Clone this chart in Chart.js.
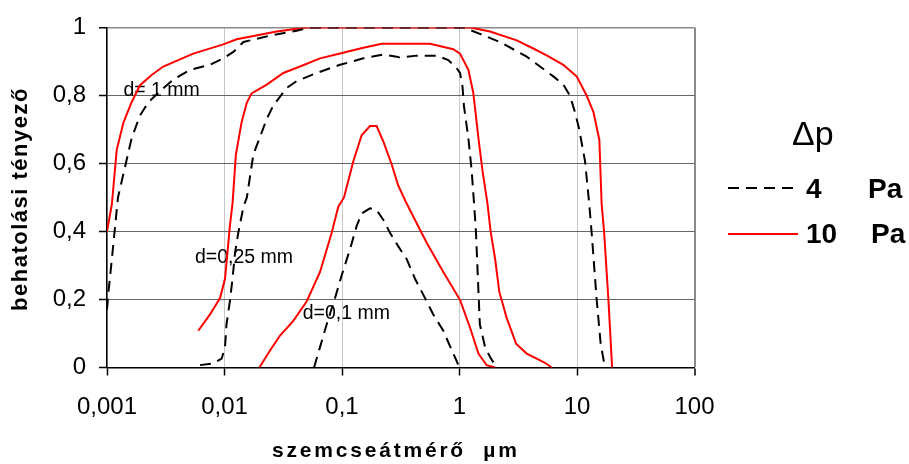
<!DOCTYPE html>
<html>
<head>
<meta charset="utf-8">
<script src="https://cdn.jsdelivr.net/npm/chart.js@4.4.0/dist/chart.umd.min.js"></script>
<style>
  html, body { margin: 0; padding: 0; background: #fff; }
  #wrap { width: 909px; height: 464px; position: relative; }
</style>
</head>
<body>
<div id="wrap"><canvas id="chart"></canvas></div>
<script>
// particle diameter (µm) and penetration factor for each filter thickness / pressure drop
const d1_4Pa_x = [0.001, 0.00103, 0.0011, 0.00124, 0.00142, 0.00162, 0.00191, 0.00224, 0.00283, 0.00367, 0.00508, 0.00753, 0.00977, 0.0119, 0.0145, 0.0244, 0.0411, 0.0534, 1.08, 1.49, 2.21, 3.73, 6.29, 7.64, 8.71, 9.61, 10.4, 11.7, 12.7, 13.3, 14.7, 15.9, 17.3]
const d1_4Pa_y = [0.17, 0.223, 0.319, 0.50, 0.588, 0.674, 0.741, 0.779, 0.813, 0.847, 0.875, 0.890, 0.909, 0.928, 0.957, 0.976, 0.990, 1.0, 1.0, 0.981, 0.957, 0.914, 0.856, 0.832, 0.799, 0.751, 0.703, 0.607, 0.482, 0.40, 0.20, 0.07, 0]

const d1_10Pa_x = [0.001, 0.0011, 0.00121, 0.00138, 0.00162, 0.00191, 0.0024, 0.00301, 0.00542, 0.00977, 0.0127, 0.0278, 0.050, 1.23, 1.82, 3.07, 4.25, 5.52, 7.64, 9.94, 12.1, 13.8, 15.5, 16.2, 17.0, 18.5, 19.9]
const d1_10Pa_y = [0.40, 0.48, 0.64, 0.72, 0.78, 0.83, 0.86, 0.885, 0.923, 0.950, 0.965, 0.988, 1.0, 1.0, 0.988, 0.962, 0.938, 0.918, 0.89, 0.856, 0.799, 0.751, 0.669, 0.482, 0.40, 0.20, 0]

const d025_4Pa_x = [0.00618, 0.00803, 0.00946, 0.0101, 0.0104, 0.0111, 0.0117, 0.0123, 0.0131, 0.0145, 0.0155, 0.0176, 0.0229, 0.0260, 0.0338, 0.0411, 0.0609, 0.0962, 0.152, 0.225, 0.292, 0.312, 0.432, 0.640, 0.803, 0.946, 1.01, 1.06, 1.09, 1.19, 1.27, 1.33, 1.38, 1.45, 1.49, 1.65, 1.82, 2.07]
const d025_4Pa_y = [0.007, 0.012, 0.026, 0.06, 0.127, 0.194, 0.261, 0.338, 0.396, 0.473, 0.50, 0.626, 0.731, 0.770, 0.822, 0.842, 0.866, 0.890, 0.909, 0.920, 0.914, 0.911, 0.917, 0.917, 0.904, 0.880, 0.866, 0.827, 0.770, 0.674, 0.578, 0.482, 0.40, 0.223, 0.127, 0.06, 0.031, 0]

const d025_10Pa_x = [0.00598, 0.00753, 0.00916, 0.0101, 0.0106, 0.0111, 0.0117, 0.0125, 0.0140, 0.0155, 0.0170, 0.0229, 0.0317, 0.0439, 0.065, 0.0962, 0.152, 0.218, 0.561, 0.885, 1.01, 1.19, 1.31, 1.45, 1.57, 1.73, 1.84, 2.01, 2.18, 2.52, 3.03, 3.73, 4.54, 5.34, 6.09]
const d025_10Pa_y = [0.108, 0.156, 0.204, 0.261, 0.338, 0.415, 0.482, 0.626, 0.722, 0.779, 0.806, 0.832, 0.866, 0.885, 0.909, 0.923, 0.940, 0.952, 0.952, 0.936, 0.923, 0.875, 0.808, 0.674, 0.578, 0.482, 0.40, 0.319, 0.223, 0.146, 0.07, 0.041, 0.026, 0.014, 0]

const d01_4Pa_x = [0.0578, 0.065, 0.0741, 0.0872, 0.0994, 0.117, 0.133, 0.147, 0.173, 0.197, 0.225, 0.256, 0.312, 0.355, 0.418, 0.509, 0.598, 0.728, 0.885, 1.0]
const d01_4Pa_y = [0, 0.06, 0.127, 0.204, 0.271, 0.348, 0.415, 0.453, 0.468, 0.463, 0.434, 0.396, 0.348, 0.319, 0.261, 0.204, 0.156, 0.108, 0.041, 0]

const d01_10Pa_x = [0.0198, 0.0244, 0.0297, 0.0385, 0.050, 0.065, 0.0817, 0.093, 0.104, 0.125, 0.147, 0.173, 0.197, 0.225, 0.265, 0.301, 0.355, 0.461, 0.526, 0.728, 1.01, 1.23, 1.45, 1.70, 2.01]
const d01_10Pa_y = [0, 0.05, 0.094, 0.137, 0.194, 0.281, 0.396, 0.473, 0.50, 0.607, 0.683, 0.710, 0.710, 0.664, 0.597, 0.535, 0.482, 0.405, 0.367, 0.281, 0.199, 0.117, 0.041, 0.007, 0]

const xTickValues = [0.001, 0.01, 0.1, 1, 10, 100]
const xTickLabels = ['0,001', '0,01', '0,1', '1', '10', '100']
const yTickValues = [0, 0.2, 0.4, 0.6, 0.8, 1]
const yTickLabels = ['0', '0,2', '0,4', '0,6', '0,8', '1']

const pressureLabels = ['4', '10']

// curve labels, anchored in data coordinates (left edge / baseline)
const curveNotes = [
  { text: 'd= 1 mm', x: 0.00138, y: 0.799 },
  { text: 'd=0,25 mm', x: 0.00561, y: 0.306 },
  { text: 'd=0,1 mm', x: 0.0463, y: 0.143 },
]

const FONT = '"Liberation Sans", Arial, sans-serif'
const dashed = { borderColor: '#000', borderWidth: 2, borderDash: [11, 7] }
const solid = { borderColor: '#ff0000', borderWidth: 2, borderDash: [] }

function pts(xs, ys) {
  return xs.map((x, i) => ({ x: x, y: ys[i] }))
}

function series(xs, ys, style) {
  return Object.assign({
    data: pts(xs, ys),
    pointRadius: 0,
    tension: 0,
    fill: false,
  }, style)
}

const datasets = [
  series(d1_4Pa_x, d1_4Pa_y, dashed),
  series(d1_10Pa_x, d1_10Pa_y, solid),
  series(d025_4Pa_x, d025_4Pa_y, dashed),
  series(d025_10Pa_x, d025_10Pa_y, solid),
  series(d01_4Pa_x, d01_4Pa_y, dashed),
  series(d01_10Pa_x, d01_10Pa_y, solid),
]

function spacedText(ctx, text, x, y, spacing) {
  ctx.letterSpacing = spacing + 'px'
  ctx.fillText(text, x, y)
  ctx.letterSpacing = '0px'
}

const textPlugin = {
  id: 'texts',
  beforeDatasetsDraw(chart) {
    const { ctx } = chart
    const xs = chart.scales.x, ys = chart.scales.y
    ctx.save()
    ctx.font = '19.5px ' + FONT
    ctx.fillStyle = '#000'
    ctx.textAlign = 'left'
    ctx.textBaseline = 'alphabetic'
    curveNotes.forEach(n => {
      ctx.fillText(n.text, xs.getPixelForValue(n.x), ys.getPixelForValue(n.y))
    })
    ctx.restore()
  },
  afterDraw(chart) {
    const { ctx } = chart
    ctx.save()
    ctx.fillStyle = '#000'
    ctx.textBaseline = 'alphabetic'

    // axis titles
    ctx.font = 'bold 21px ' + FONT
    ctx.textAlign = 'left'
    spacedText(ctx, 'szemcseátmérő  µm', 272, 457, 2.8)

    ctx.save()
    ctx.translate(27, 199)
    ctx.rotate(-Math.PI / 2)
    ctx.textAlign = 'center'
    ctx.font = 'bold 22px ' + FONT
    spacedText(ctx, 'behatolási tényező', 0, 0, 1.5)
    ctx.restore()

    // legend
    ctx.textAlign = 'left'
    ctx.font = '34px ' + FONT
    ctx.fillText('\u0394p', 792, 145)

    const rows = [
      { style: dashed, lineY: 188, base: 198, label: pressureLabels[0], paX: 868 },
      { style: solid, lineY: 234, base: 243, label: pressureLabels[1], paX: 871 },
    ]
    rows.forEach(r => {
      ctx.beginPath()
      ctx.strokeStyle = r.style.borderColor
      ctx.lineWidth = r.style.borderWidth
      ctx.setLineDash(r.style.borderDash)
      ctx.moveTo(728, r.lineY)
      ctx.lineTo(798, r.lineY)
      ctx.stroke()
      ctx.setLineDash([])
      ctx.font = 'bold 28px ' + FONT
      ctx.fillText(r.label, 806, r.base)
      ctx.fillText('Pa', r.paX, r.base)
    })
    ctx.restore()
  },
}

new Chart(document.getElementById('chart'), {
  type: 'line',
  data: { datasets: datasets },
  plugins: [textPlugin],
  options: {
    responsive: true,
    maintainAspectRatio: false,
    animation: false,
    devicePixelRatio: 1,
    layout: { padding: { left: 0, top: 20, right: 214.5, bottom: 0 } },
    plugins: { legend: { display: false }, tooltip: { enabled: false } },
    scales: {
      x: {
        type: 'logarithmic',
        min: 0.001,
        max: 100,
        afterBuildTicks: s => { s.ticks = xTickValues.map(v => ({ value: v })) },
        afterFit: s => { s.height = 96.5 },
        ticks: {
          autoSkip: false,
          maxRotation: 0,
          padding: 17,
          color: '#000',
          font: { family: FONT, size: 24 },
          callback: v => xTickLabels[xTickValues.indexOf(v)],
        },
        grid: {
          color: c => (c.tick && c.tick.value === 100 ? '#8a8a8a' : '#c8c8c8'),
          lineWidth: c => (c.tick && c.tick.value === 100 ? 2 : 1),
          tickColor: '#000',
          tickLength: 8,
          tickWidth: 1.5,
        },
        border: { color: '#000', width: 1.5 },
      },
      y: {
        type: 'linear',
        min: 0,
        max: 1,
        afterBuildTicks: s => { s.ticks = yTickValues.map(v => ({ value: v })) },
        afterFit: s => { s.width = 107 },
        ticks: {
          padding: 13,
          color: '#000',
          font: { family: FONT, size: 24 },
          callback: v => yTickLabels[yTickValues.indexOf(v)],
        },
        grid: {
          color: c => {
            const v = c.tick ? c.tick.value : null
            if (v === 0) return 'rgba(0,0,0,0)'
            if (v === 1) return '#8a8a8a'
            return '#666'
          },
          lineWidth: c => (c.tick && c.tick.value === 1 ? 1.5 : 1),
          tickColor: '#000',
          tickLength: 8,
          tickWidth: 1.5,
        },
        border: { color: '#000', width: 1.5 },
      },
    },
  },
})
</script>
</body>
</html>
